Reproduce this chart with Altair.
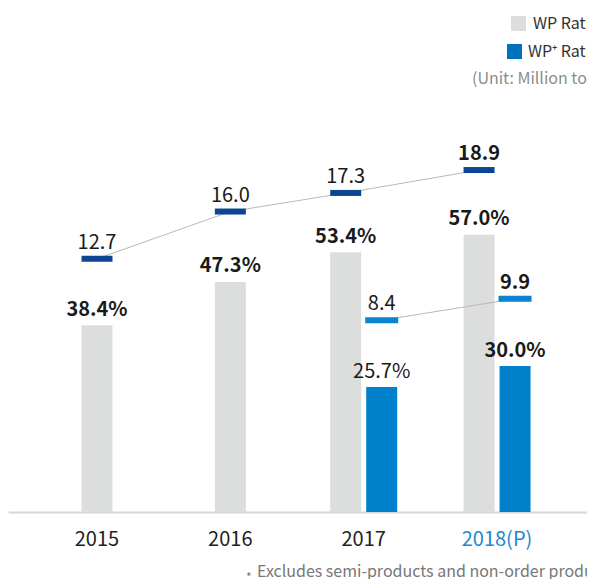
import altair as alt
import pandas as pd

# ---- data ----
years = ["2015", "2016", "2017", "2018(P)"]
wp_ratio = [38.4, 47.3, 53.4, 57.0]          # WP ratio (%)
wpplus_ratio = [None, None, 25.7, 30.0]      # WP+ ratio (%)
wp_tons = [12.7, 16.0, 17.3, 18.9]           # WP sales (million tons)
wpplus_tons = [None, None, 8.4, 9.9]         # WP+ sales (million tons)

legend_labels = ["WP Ratio", "WP\u207a Ratio"]
unit_label = "(Unit: Million tons)"
footnote = "Excludes semi-products and non-order products"
highlight_year = "2018(P)"

FONT = "Noto Sans CJK KR"

wp_df = pd.DataFrame({
    "year": years,
    "ratio": wp_ratio,
    "tons": wp_tons,
    "slot": ["M" if p is None else "L" for p in wpplus_ratio],
})
plus_rows = [(y, r, t) for y, r, t in zip(years, wpplus_ratio, wpplus_tons) if r is not None]
plus_df = pd.DataFrame(plus_rows, columns=["year", "ratio", "tons"])
plus_df["slot"] = "R"

xscale = alt.Scale(domain=years, paddingInner=0, paddingOuter=0.171, align=0.489)
xaxis = alt.Axis(
    title=None, ticks=False, tickSize=0, labelPadding=17, labelFontSize=20,
    labelFont=FONT, labelAngle=0,
    labelColor=alt.condition(f"datum.value == '{highlight_year}'", alt.value("#1e87d1"), alt.value("#222222")),
    domainColor="#d6d6d6", domainWidth=2,
)
X = alt.X("year:N", scale=xscale, axis=xaxis, sort=years)
XO = alt.XOffset("slot:N", scale=alt.Scale(domain=["L", "M", "R"], paddingInner=0, paddingOuter=0, range=[39.7, 93.7]))
Yr = lambda: alt.Y("ratio:Q", scale=alt.Scale(domain=[0, 76.5]), axis=None)
Yt = lambda: alt.Y("tons:Q", scale=alt.Scale(domain=[-5, 21]), axis=None)

is_hl = f"datum.year == '{highlight_year}'"
not_hl = f"datum.year != '{highlight_year}'"


def labels(df, field, fmt, suffix, dy, yenc, bold_all=False):
    base = alt.Chart(df).transform_calculate(
        lbl=f"format(datum.{field}, '{fmt}') + '{suffix}'"
    )
    if bold_all:
        return [base.mark_text(dy=dy, baseline="alphabetic", fontSize=20, fontWeight="bold",
                               font=FONT, color="#1a1a1a").encode(x=X, xOffset=XO, y=yenc(), text="lbl:N")]
    normal = base.transform_filter(not_hl).mark_text(
        dy=dy, baseline="alphabetic", fontSize=20, fontWeight="normal", font=FONT, color="#1a1a1a"
    ).encode(x=X, xOffset=XO, y=yenc(), text="lbl:N")
    bold = base.transform_filter(is_hl).mark_text(
        dy=dy, baseline="alphabetic", fontSize=20, fontWeight="bold", font=FONT, color="#1a1a1a"
    ).encode(x=X, xOffset=XO, y=yenc(), text="lbl:N")
    return [normal, bold]


gray_bars = alt.Chart(wp_df).mark_bar(width=31, color="#dcdddd").encode(x=X, xOffset=XO, y=Yr())
blue_bars = alt.Chart(plus_df).mark_bar(width=31, color="#0081cc").encode(x=X, xOffset=XO, y=Yr())

wp_line = alt.Chart(wp_df).mark_line(color="#b8b8b8", strokeWidth=1).encode(x=X, xOffset=XO, y=Yt())
plus_line = alt.Chart(plus_df).mark_line(color="#b8b8b8", strokeWidth=1).encode(x=X, xOffset=XO, y=Yt())

wp_mark = alt.Chart(wp_df).mark_tick(thickness=6, size=31, color="#0c4591", opacity=1).encode(x=X, xOffset=XO, y=Yt())
plus_mark = alt.Chart(plus_df).mark_tick(thickness=6, size=33, color="#0a84d1", opacity=1).encode(x=X, xOffset=XO, y=Yt())

lbl_layers = (
    labels(wp_df, "ratio", ".1f", "%", -9.5, Yr, bold_all=True)
    + labels(plus_df, "ratio", ".1f", "%", -9.5, Yr)
    + labels(wp_df, "tons", ".1f", "", -10, Yt)
    + labels(plus_df, "tons", ".1f", "", -10, Yt)
)

# ---- manual legend / notes ----
leg_df = pd.DataFrame({"label": legend_labels})
sq1 = alt.Chart(leg_df.iloc[[0]]).mark_square(size=225, color="#dcdddd", opacity=1).encode(
    x=alt.value(510.5), y=alt.value(-116.5))
sq2 = alt.Chart(leg_df.iloc[[1]]).mark_square(size=225, color="#0072bc", opacity=1).encode(
    x=alt.value(506.5), y=alt.value(-88.5))
t1 = alt.Chart(leg_df.iloc[[0]]).mark_text(align="left", baseline="middle", fontSize=16, font=FONT, color="#333333").encode(
    x=alt.value(525), y=alt.value(-116), text="label:N")
t2 = alt.Chart(leg_df.iloc[[1]]).mark_text(align="left", baseline="middle", fontSize=16, font=FONT, color="#333333").encode(
    x=alt.value(520), y=alt.value(-88), text="label:N")
unit = alt.Chart(pd.DataFrame({"t": [unit_label]})).mark_text(
    align="left", baseline="middle", fontSize=16, font=FONT, color="#8c8c8c").encode(
    x=alt.value(464), y=alt.value(-61), text="t:N")
FOOT_Y = 436.5
star = alt.Chart(pd.DataFrame({"t": ["*"]})).mark_text(
    align="left", baseline="alphabetic", fontSize=12, font=FONT, color="#777777").encode(
    x=alt.value(238), y=alt.value(FOOT_Y + 5), text="t:N")
foot = alt.Chart(pd.DataFrame({"t": [footnote]})).mark_text(
    align="left", baseline="alphabetic", fontSize=16, font=FONT, color="#777777").encode(
    x=alt.value(249), y=alt.value(FOOT_Y), text="t:N")

chart = alt.layer(
    gray_bars, blue_bars, wp_line, plus_line, wp_mark, plus_mark,
    *lbl_layers,
    sq1, sq2, t1, t2, unit, star, foot,
).resolve_scale(y="independent").properties(
    width=579, height=372,
    autosize=alt.AutoSizeParams(type="none"),
    padding={"left": 0, "right": 0, "top": 132, "bottom": 67},
).configure(font=FONT).configure_view(strokeWidth=0, stroke=None)

chart.save("out.html", embed_options={"renderer": "svg", "actions": False})
